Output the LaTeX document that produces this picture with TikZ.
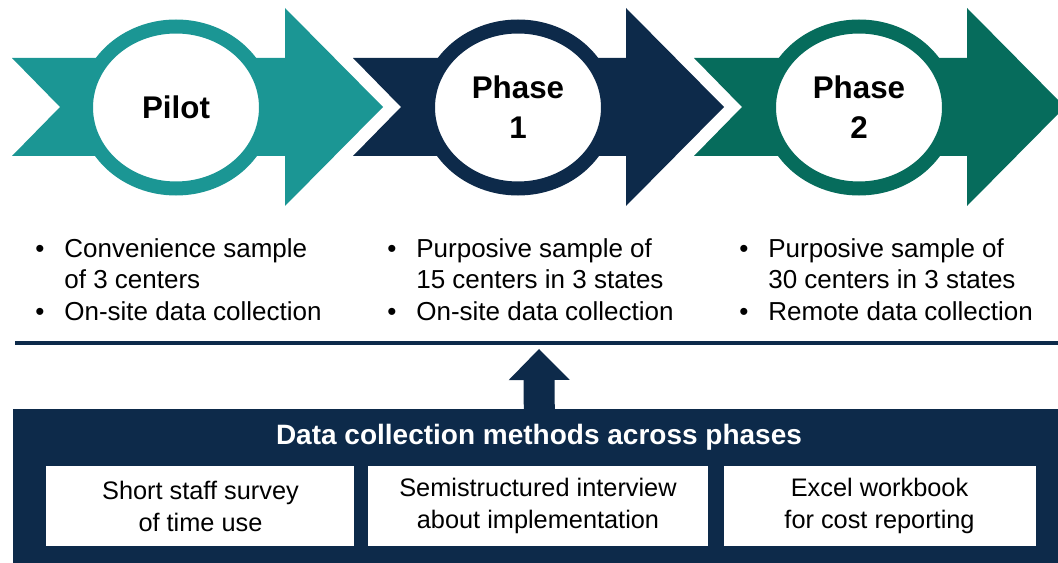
\documentclass[tikz,border=0pt]{standalone}
\usepackage{fontspec}
\setmainfont{Liberation Sans}
\usetikzlibrary{shapes.geometric}
\usetikzlibrary{arrows.meta}
\usetikzlibrary{positioning}

\definecolor{pilotteal}{RGB}{27,150,148}
\definecolor{phasenavy}{RGB}{13,42,74}
\definecolor{phasegreen}{RGB}{6,108,92}

\begin{document}
\begin{tikzpicture}[x=0.75pt,y=-0.75pt]
      \tikzset{
        phase/.style={ellipse, draw=#1, line width=10.5pt, fill=white,
          minimum width=135pt, minimum height=121.5pt, inner sep=0pt,
          align=center, font=\bfseries\fontsize{23.5}{30}\selectfont},
        notes/.style={anchor=north west, inner sep=0pt,
          font=\fontsize{19.5}{23.6}\selectfont},
        method/.style={fill=white, minimum height=60pt, inner sep=0pt,
          align=center, font=\fontsize{19}{24}\selectfont},
        upflow/.style={draw=phasenavy, line width=23.25pt,
          -{Triangle[width=45.75pt, length=23.25pt, line width=0pt]}},
      }
      \useasboundingbox (0,0) rectangle (1058,563);
      \clip (0,0) rectangle (1058,563);

      % chevrons
      \fill[pilotteal] (12,58) -- (285,58) -- (285,8) -- (383,107) -- (285,206)
        -- (285,156) -- (12,156) -- (60,107) -- cycle;
      \fill[phasenavy] (353,58) -- (626,58) -- (626,8) -- (724,107) -- (626,206)
        -- (626,156) -- (353,156) -- (401,107) -- cycle;
      \fill[phasegreen] (694,58) -- (967,58) -- (967,8) -- (1065,107) -- (967,206)
        -- (967,156) -- (694,156) -- (742,107) -- cycle;

      \node[phase=pilotteal] (pilot) at (176,107.5) {Pilot};
      \node[phase=phasenavy] (phase1) at (518,107.5) {Phase\\1};
      \node[phase=phasegreen] (phase2) at (859,107.5) {Phase\\2};

      % what each phase covered
      \node[notes] (pilotnotes) at (35,235) {\begin{tabular}{@{}l@{\hspace{15pt}}l@{}}
        \textbullet & Convenience sample\\ & of 3 centers\\
        \textbullet & On-site data collection\end{tabular}};
      \node[notes] (phase1notes) at (387,235) {\begin{tabular}{@{}l@{\hspace{15pt}}l@{}}
        \textbullet & Purposive sample of\\ & 15 centers in 3 states\\
        \textbullet & On-site data collection\end{tabular}};
      \node[notes] (phase2notes) at (739,235) {\begin{tabular}{@{}l@{\hspace{15pt}}l@{}}
        \textbullet & Purposive sample of\\ & 30 centers in 3 states\\
        \textbullet & Remote data collection\end{tabular}};

      \draw[phasenavy, line width=3pt] (15,343) -- (1058,343);

      % methods panel
      \node[fill=phasenavy, anchor=north west, inner sep=0pt,
        minimum width=789pt, minimum height=120pt] (methods) at (13,409) {};
      \node[anchor=base, text=white, font=\bfseries\fontsize{21}{25}\selectfont]
        (title) at (539,445) {Data collection methods across phases};
      \node[method, minimum width=255pt] (interview) at (538,506)
        {Semistructured interview\\about implementation};
      \node[method, minimum width=231pt, left=9.75pt of interview] (survey)
        {Short staff survey\\of time use};
      \node[method, minimum width=234pt, right=11.25pt of interview] (workbook)
        {Excel workbook\\for cost reporting};

      \coordinate (uptip) at (539,349);
      \draw[upflow] (methods.north) -- (uptip);
    \end{tikzpicture}
\end{document}
